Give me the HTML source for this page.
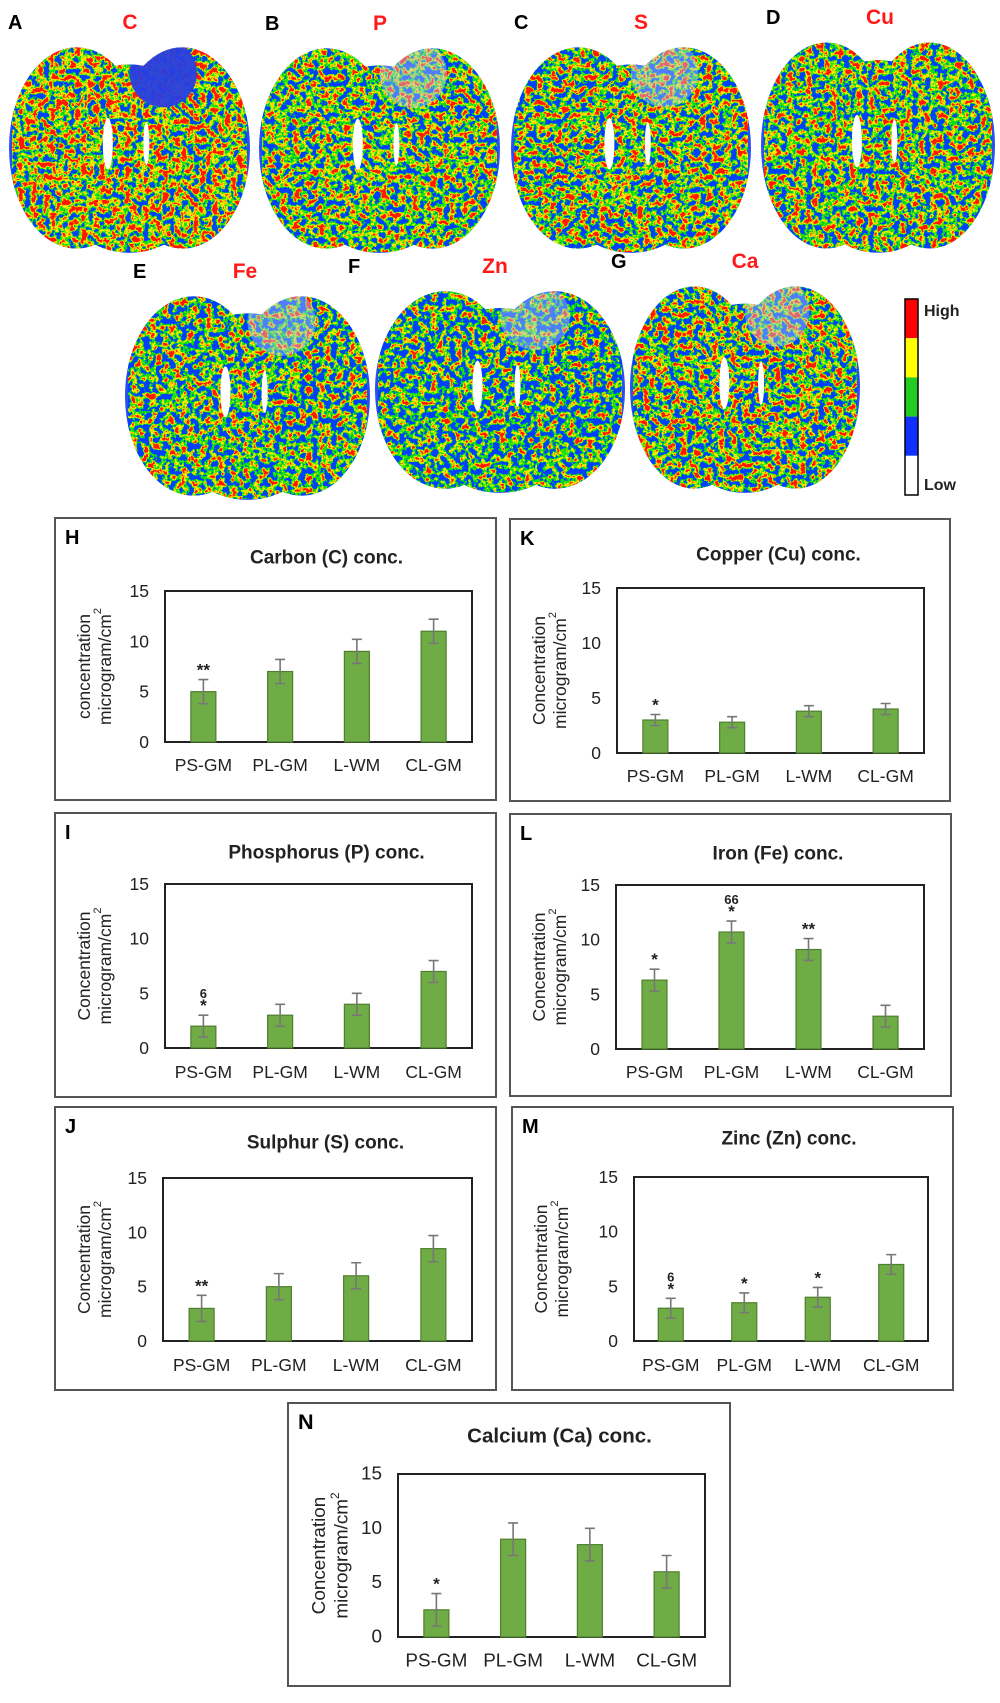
<!DOCTYPE html>
<html><head><meta charset="utf-8">
<style>
html,body{margin:0;padding:0;background:#fff;}
svg{display:block;font-family:"Liberation Sans",Arial,sans-serif;}
</style></head>
<body>
<svg id="fig" width="1000" height="1703" viewBox="0 0 1000 1703" xmlns="http://www.w3.org/2000/svg">
<defs id="defs"></defs>
<g id="maps"></g>
<g id="charts"></g>
</svg>
<script>
// ---------- chart data ----------
const categories = ["PS-GM", "PL-GM", "L-WM", "CL-GM"];
const tickLabels = [0, 5, 10, 15];
const carbonValues = [5, 7, 9, 11];
const carbonErrors = [1.2, 1.2, 1.2, 1.2];
const carbonMarks = ["**", "", "", ""];
const carbonMarks2 = ["", "", "", ""];
const copperValues = [3, 2.8, 3.8, 4];
const copperErrors = [0.5, 0.5, 0.5, 0.5];
const copperMarks = ["*", "", "", ""];
const copperMarks2 = ["", "", "", ""];
const phosphorusValues = [2, 3, 4, 7];
const phosphorusErrors = [1, 1, 1, 1];
const phosphorusMarks = ["*", "", "", ""];
const phosphorusMarks2 = ["6", "", "", ""];
const ironValues = [6.3, 10.7, 9.1, 3];
const ironErrors = [1, 1, 1, 1];
const ironMarks = ["*", "*", "**", ""];
const ironMarks2 = ["", "66", "", ""];
const sulphurValues = [3, 5, 6, 8.5];
const sulphurErrors = [1.2, 1.2, 1.2, 1.2];
const sulphurMarks = ["**", "", "", ""];
const sulphurMarks2 = ["", "", "", ""];
const zincValues = [3, 3.5, 4, 7];
const zincErrors = [0.9, 0.9, 0.9, 0.9];
const zincMarks = ["*", "*", "*", ""];
const zincMarks2 = ["6", "", "", ""];
const calciumValues = [2.5, 9, 8.5, 6];
const calciumErrors = [1.5, 1.5, 1.5, 1.5];
const calciumMarks = ["*", "", "", ""];
const calciumMarks2 = ["", "", "", ""];

const NS = "http://www.w3.org/2000/svg";
function mk(tag, attrs, parent) {
  const e = document.createElementNS(NS, tag);
  for (const k in attrs) e.setAttribute(k, attrs[k]);
  if (parent) parent.appendChild(e);
  return e;
}

// ---------- brain maps ----------
const defs = document.getElementById('defs');
const maps = document.getElementById('maps');
function noiseFilter(id, seed, mean) {
  const gain = 3.2;
  const bias = mean - 0.5 * gain;
  const f = mk('filter', {id: id, x: '0', y: '0', width: '100%', height: '100%', 'color-interpolation-filters': 'sRGB'}, defs);
  mk('feTurbulence', {type: 'fractalNoise', baseFrequency: '0.16', numOctaves: '3', seed: seed, result: 'n'}, f);
  mk('feColorMatrix', {type: 'matrix', values:
    `${gain} 0 0 0 ${bias}  ${gain} 0 0 0 ${bias}  ${gain} 0 0 0 ${bias}  0 0 0 0 1`}, f);
  const ct = mk('feComponentTransfer', {}, f);
  mk('feFuncR', {type: 'discrete', tableValues: '0 0 0.2 1 1 1'}, ct);
  mk('feFuncG', {type: 'discrete', tableValues: '0.25 0.85 0.9 0.95 0.75 0.1'}, ct);
  mk('feFuncB', {type: 'discrete', tableValues: '1 0.1 0.05 0 0 0'}, ct);
}
const brains = [
  {id: 'A', el: 'C', x: 9, y: 41, w: 241, h: 214, lx: 8, ex: 130, seed: 3, mean: 0.5, patch: 'blue'},
  {id: 'B', el: 'P', x: 259, y: 42, w: 241, h: 213, lx: 265, ex: 380, seed: 7, mean: 0.4, patch: 'white'},
  {id: 'C', el: 'S', x: 511, y: 41, w: 240, h: 214, lx: 514, ex: 641, seed: 11, mean: 0.42, patch: 'white'},
  {id: 'D', el: 'Cu', x: 761, y: 36, w: 234, h: 219, lx: 766, ex: 880, seed: 13, mean: 0.4, patch: 'none'},
  {id: 'E', el: 'Fe', x: 125, y: 290, w: 245, h: 212, lx: 133, ex: 245, seed: 17, mean: 0.34, patch: 'white'},
  {id: 'F', el: 'Zn', x: 375, y: 285, w: 250, h: 210, lx: 348, ex: 495, seed: 19, mean: 0.29, patch: 'white'},
  {id: 'G', el: 'Ca', x: 630, y: 280, w: 230, h: 215, lx: 611, ex: 745, seed: 23, mean: 0.4, patch: 'white'}
];
brains.forEach(function (b) {
  const fid = 'nf' + b.id;
  noiseFilter(fid, b.seed, b.mean);
  const cid = 'cp' + b.id;
  const cp = mk('clipPath', {id: cid}, defs);
  const cx = b.x + b.w / 2;
  mk('ellipse', {cx: b.x + b.w * 0.28, cy: b.y + b.h * 0.5, rx: b.w * 0.28, ry: b.h * 0.47}, cp);
  mk('ellipse', {cx: b.x + b.w * 0.72, cy: b.y + b.h * 0.5, rx: b.w * 0.28, ry: b.h * 0.47}, cp);
  mk('ellipse', {cx: cx, cy: b.y + b.h * 0.55, rx: b.w * 0.35, ry: b.h * 0.44}, cp);
  const g = mk('g', {}, maps);
  
  
  const inner = mk('g', {'clip-path': 'url(#' + cid + ')'}, g);
  mk('rect', {x: b.x, y: b.y, width: b.w, height: b.h, fill: '#2a50f0'}, inner);
  mk('rect', {x: b.x + 3, y: b.y + 3, width: b.w - 6, height: b.h - 6, rx: 60, filter: 'url(#' + fid + ')'}, inner);
  if (b.patch !== 'none') {
    mk('ellipse', {cx: b.x + b.w * 0.64, cy: b.y + b.h * 0.15, rx: b.w * 0.14, ry: b.h * 0.16,
      fill: b.patch === 'blue' ? '#2a3ee0' : '#b8c6ff', opacity: b.patch === 'blue' ? 0.95 : 0.45}, inner);
  }
  mk('ellipse', {cx: b.x + b.w * 0.41, cy: b.y + b.h * 0.48, rx: 5, ry: b.h * 0.12, fill: '#fff'}, inner);
  mk('ellipse', {cx: b.x + b.w * 0.57, cy: b.y + b.h * 0.48, rx: 3, ry: b.h * 0.1, fill: '#fff'}, inner);
  const lt = mk('text', {x: b.lx, y: b.y - 12, 'font-size': 20, 'font-weight': 'bold', fill: '#000'}, g);
  lt.textContent = b.id;
  
  
  const et = mk('text', {x: b.ex, y: b.y - 12, 'font-size': 21, 'font-weight': 'bold', fill: '#ff1a1a', 'text-anchor': 'middle'}, g);
  et.textContent = b.el;
  
  
});
(function () {
  const g = mk('g', {}, maps);
  
  
  const cols = ['#ff0000', '#ffff00', '#22cc22', '#1030ff', '#ffffff'];
  const x = 905, y0 = 299, segH = 39.2;
  cols.forEach(function (c, i) {
    const r = mk('rect', {x: x, y: y0 + i * segH, width: 13, height: segH, fill: c}, g);
    
    
  });
  mk('rect', {x: x, y: y0, width: 13, height: segH * 5, fill: 'none', stroke: '#000', 'stroke-width': 1.5}, g);
  const hi = mk('text', {x: 924, y: 316, 'font-size': 16, 'font-weight': 'bold', fill: '#222'}, g);
  hi.textContent = 'High';
  
  
  const lo = mk('text', {x: 924, y: 490, 'font-size': 16, 'font-weight': 'bold', fill: '#222'}, g);
  lo.textContent = 'Low';
  
  
})();

// ---------- bar charts ----------
const panels = [
  {id: 'H', title: 'Carbon (C) conc.', yt: 'concentration', vals: carbonValues, errs: carbonErrors, m1: carbonMarks, m2: carbonMarks2,
   box: [55, 518, 441, 282], plot: [165, 591, 472, 742], ty: 558, cy: 765},
  {id: 'K', title: 'Copper (Cu) conc.', yt: 'Concentration', vals: copperValues, errs: copperErrors, m1: copperMarks, m2: copperMarks2,
   box: [510, 519, 440, 282], plot: [617, 588, 924, 753], ty: 555, cy: 776},
  {id: 'I', title: 'Phosphorus (P) conc.', yt: 'Concentration', vals: phosphorusValues, errs: phosphorusErrors, m1: phosphorusMarks, m2: phosphorusMarks2,
   box: [55, 813, 441, 284], plot: [165, 884, 472, 1048], ty: 853, cy: 1072},
  {id: 'L', title: 'Iron (Fe) conc.', yt: 'Concentration', vals: ironValues, errs: ironErrors, m1: ironMarks, m2: ironMarks2,
   box: [510, 814, 441, 282], plot: [616, 885, 924, 1049], ty: 854, cy: 1072},
  {id: 'J', title: 'Sulphur (S) conc.', yt: 'Concentration', vals: sulphurValues, errs: sulphurErrors, m1: sulphurMarks, m2: sulphurMarks2,
   box: [55, 1107, 441, 283], plot: [163, 1178, 472, 1341], ty: 1143, cy: 1365},
  {id: 'M', title: 'Zinc (Zn) conc.', yt: 'Concentration', vals: zincValues, errs: zincErrors, m1: zincMarks, m2: zincMarks2,
   box: [512, 1107, 441, 283], plot: [634, 1177, 928, 1341], ty: 1139, cy: 1365},
  {id: 'N', title: 'Calcium (Ca) conc.', yt: 'Concentration', vals: calciumValues, errs: calciumErrors, m1: calciumMarks, m2: calciumMarks2,
   box: [288, 1403, 442, 283], plot: [398, 1474, 705, 1637], ty: 1436, cy: 1661}
];
const charts = document.getElementById('charts');
panels.forEach(function (p) {
  const g = mk('g', {}, charts);
  
  
  const [bx, by, bw, bh] = p.box;
  const [pl, pt, pr, pb] = p.plot;
  const big = p.id === 'N' ? 1.08 : 1;
  const yScale = function (v) { return pb - (v / 15) * (pb - pt); };
  const band = (pr - pl) / categories.length;
  const xScale = function (i) { return pl + band * (i + 0.5); };

  const border = mk('rect', {x: bx, y: by, width: bw, height: bh, fill: '#fff', stroke: '#555', 'stroke-width': 2}, g);
  
  
  const lab = mk('text', {x: bx + 10, y: by + 26, 'font-size': 20 * big, 'font-weight': 'bold', fill: '#000'}, g);
  lab.textContent = p.id;
  
  
  const tt = mk('text', {x: (pl + pr) / 2 + 8, y: p.ty, 'font-size': 19 * big, 'font-weight': 'bold', fill: '#222', 'text-anchor': 'middle', 'dominant-baseline': 'central'}, g);
  tt.textContent = p.title;
  
  

  const ycy = (pt + pb) / 2;
  const x1 = bx + 29 * big, x2 = bx + 50 * big;
  const y1 = mk('text', {x: x1, y: ycy, 'font-size': 17.5 * big, fill: '#222', 'text-anchor': 'middle', 'dominant-baseline': 'central', transform: `rotate(-90 ${x1} ${ycy})`}, g);
  y1.textContent = p.yt;
  
  
  const y2 = mk('text', {x: x2, y: ycy, 'font-size': 17.5 * big, fill: '#222', 'text-anchor': 'middle', 'dominant-baseline': 'central', transform: `rotate(-90 ${x2} ${ycy})`}, g);
  y2.innerHTML = 'microgram/cm<tspan dy="-7" font-size="' + (11 * big) + '">2</tspan>';
  
  

  tickLabels.forEach(function (t) {
    const tl = mk('text', {x: pl - 16, y: yScale(t), 'font-size': 17.5 * big, fill: '#222', 'text-anchor': 'end', 'dominant-baseline': 'central'}, g);
    tl.textContent = t;
    
    
  });
  categories.forEach(function (c, i) {
    const cl = mk('text', {x: xScale(i), y: p.cy, 'font-size': 17.5 * big, fill: '#222', 'text-anchor': 'middle', 'dominant-baseline': 'central'}, g);
    cl.textContent = c;
    
    
  });
  const pbox = mk('rect', {x: pl, y: pt, width: pr - pl, height: pb - pt, fill: 'none', stroke: '#222', 'stroke-width': 2}, g);
  
  

  p.vals.forEach(function (v, i) {
    const cx = xScale(i);
    const bar = mk('rect', {x: cx - 12.5, y: yScale(v), width: 25, height: pb - yScale(v), fill: '#6fac46', stroke: '#4f7f2e', 'stroke-width': 1.2}, g);
    
    
    const e = p.errs[i];
    const eb = mk('path', {d: `M${cx} ${yScale(v - e)}V${yScale(v + e)}M${cx - 5} ${yScale(v + e)}H${cx + 5}M${cx - 5} ${yScale(v - e)}H${cx + 5}`,
      stroke: '#777', 'stroke-width': 1.6, fill: 'none'}, g);
    
    
    const top = yScale(v + e);
    if (p.m1[i]) {
      const s = mk('text', {x: cx, y: top - 4, 'font-size': 17, 'font-weight': 'bold', fill: '#222', 'text-anchor': 'middle'}, g);
      s.textContent = p.m1[i];
      
      
    }
    if (p.m2[i]) {
      const s2 = mk('text', {x: cx, y: top - 17, 'font-size': 13, 'font-weight': 'bold', fill: '#222', 'text-anchor': 'middle'}, g);
      s2.textContent = p.m2[i];
      
      
    }
  });
});
</script>
</body></html>
